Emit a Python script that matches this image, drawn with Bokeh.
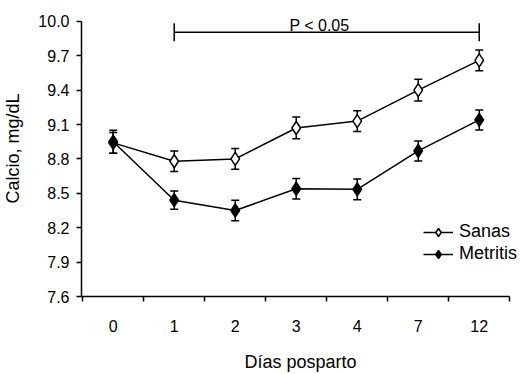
from bokeh.plotting import figure
from bokeh.models import (ColumnDataSource, Whisker, TeeHead, FixedTicker, Legend,
                          LegendItem, Label, NumeralTickFormatter, Range1d)
from bokeh.embed import file_html
from bokeh.resources import INLINE

# ---- data ----
days = ["0", "1", "2", "3", "4", "7", "12"]
sanas = [8.94, 8.78, 8.80, 9.07, 9.13, 9.40, 9.66]
sanas_se = [0.09, 0.09, 0.09, 0.095, 0.09, 0.095, 0.09]
metritis = [8.95, 8.44, 8.35, 8.54, 8.535, 8.87, 9.14]
metritis_se = [0.10, 0.08, 0.09, 0.09, 0.09, 0.087, 0.087]
y_ticks = [7.6, 7.9, 8.2, 8.5, 8.8, 9.1, 9.4, 9.7, 10.0]
bracket_from, bracket_to = "1", "12"
bracket_y = 9.905
p_text = "P < 0.05"
x_title = "Días posparto"
y_title = "Calcio, mg/dL"

FONT = "Liberation Sans"
xs = list(range(len(days)))

p = figure(width=520, height=374, output_backend="svg", toolbar_location=None,
           x_range=Range1d(-0.52, 6.66), y_range=Range1d(7.6, 10.182),
           min_border_left=81, min_border_right=1, min_border_top=0, min_border_bottom=76)
p.outline_line_color = None
p.grid.visible = False
p.background_fill_color = "white"

# x axis
xa = p.xaxis[0]
xa.bounds = (-0.52, 6.5)
xa.ticker = FixedTicker(ticks=xs, minor_ticks=[i - 0.5 for i in range(len(days) + 1)])
xa.major_label_overrides = {i: d for i, d in enumerate(days)}
xa.major_tick_line_color = None
xa.major_tick_out = 0
xa.major_tick_in = 0
xa.minor_tick_out = 5
xa.minor_tick_in = 0
xa.minor_tick_line_color = "black"
xa.minor_tick_line_width = 1.5
xa.axis_line_width = 1.5
xa.axis_line_color = "black"
xa.major_label_standoff = 18
xa.major_label_text_font = FONT
xa.major_label_text_font_size = "16px"
xa.major_label_text_color = "black"
xa.axis_label = x_title
xa.axis_label_text_font = FONT
xa.axis_label_text_font_size = "18px"
xa.axis_label_text_font_style = "normal"
xa.axis_label_text_color = "black"
xa.axis_label_standoff = 17

# y axis
ya = p.yaxis[0]
ya.bounds = (7.6, 10.0)
ya.ticker = FixedTicker(ticks=y_ticks)
ya.formatter = NumeralTickFormatter(format="0.0")
ya.major_tick_out = 5
ya.major_tick_in = 0
ya.major_tick_line_width = 1.5
ya.minor_tick_line_color = None
ya.axis_line_width = 1.5
ya.axis_line_color = "black"
ya.major_label_standoff = 7
ya.major_label_text_font = FONT
ya.major_label_text_font_size = "16px"
ya.major_label_text_color = "black"
ya.axis_label = y_title
ya.axis_label_text_font = FONT
ya.axis_label_text_font_size = "18px"
ya.axis_label_text_font_style = "normal"
ya.axis_label_text_color = "black"
ya.axis_label_standoff = 12

src_s = ColumnDataSource(dict(x=xs, y=sanas, lo=[v - e for v, e in zip(sanas, sanas_se)],
                              hi=[v + e for v, e in zip(sanas, sanas_se)]))
src_m = ColumnDataSource(dict(x=xs, y=metritis, lo=[v - e for v, e in zip(metritis, metritis_se)],
                              hi=[v + e for v, e in zip(metritis, metritis_se)]))

for src in (src_s, src_m):
    w = Whisker(source=src, base="x", lower="lo", upper="hi", line_color="black", line_width=1.5,
                upper_head=TeeHead(size=8, line_color="black", line_width=1.5),
                lower_head=TeeHead(size=8, line_color="black", line_width=1.5))
    p.add_layout(w)

ls = p.line("x", "y", source=src_s, line_color="black", line_width=1.5)
ms = p.scatter("x", "y", source=src_s, marker="diamond", size=13, fill_color="white",
               line_color="black", line_width=1.5)
lm = p.line("x", "y", source=src_m, line_color="black", line_width=1.5)
mm = p.scatter("x", "y", source=src_m, marker="diamond", size=13, fill_color="black",
               line_color="black", line_width=1.5)

# significance bracket
bsrc = ColumnDataSource(dict(y=[bracket_y], lo=[days.index(bracket_from)], hi=[days.index(bracket_to)]))
p.add_layout(Whisker(source=bsrc, base="y", lower="lo", upper="hi", dimension="width",
                     line_color="black", line_width=1.5,
                     upper_head=TeeHead(size=18, line_color="black", line_width=1.5),
                     lower_head=TeeHead(size=18, line_color="black", line_width=1.5)))
p.add_layout(Label(x=3.38, y=9.965, text=p_text, text_align="center", text_baseline="alphabetic",
                   text_font=FONT, text_font_size="16px", text_color="black"))

legend = Legend(items=[LegendItem(label="Sanas", renderers=[ls, ms]),
                       LegendItem(label="Metritis", renderers=[lm, mm])],
                location=(342, 32), padding=0, margin=0, spacing=1,
                glyph_width=30, glyph_height=20, label_height=20, label_standoff=6,
                label_text_font=FONT, label_text_font_size="18px", label_text_color="black",
                border_line_color=None, background_fill_alpha=0)
p.add_layout(legend)

open("out.html", "w").write(file_html(p, INLINE))
